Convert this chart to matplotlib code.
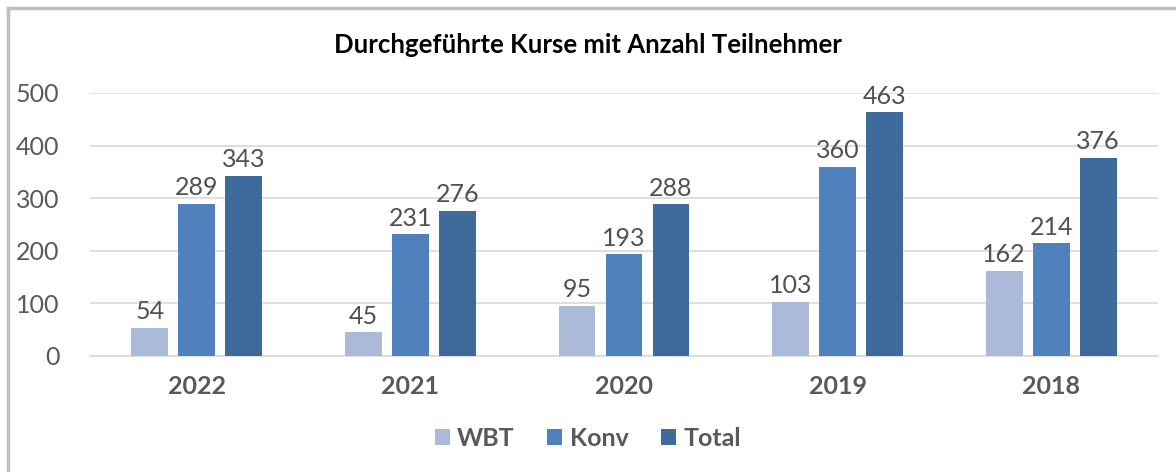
import numpy as np
import matplotlib.pyplot as plt
from matplotlib.lines import Line2D

jahre = ["2022", "2021", "2020", "2019", "2018"]
wbt = [54, 45, 95, 103, 162]
konv = [289, 231, 193, 360, 214]
total = [343, 276, 288, 463, 376]

serien = ["WBT", "Konv", "Total"]
farben = ["#ABBAD8", "#4F81BD", "#3F6A9C"]

plt.rcParams["font.family"] = ["Lato", "DejaVu Sans"]

fig = plt.figure(figsize=(11.76, 4.72), dpi=100)
ax = fig.add_axes([0.0765, 0.2458, 0.9082, 0.5572])

x = np.arange(len(jahre))
breite = 0.173
abstand = 0.22
for i, (werte, farbe, name) in enumerate(zip([wbt, konv, total], farben, serien)):
    pos = x + (i - 1) * abstand
    bars = ax.bar(pos, werte, breite, color=farbe, label=name, zorder=3)
    for b, v in zip(bars, werte):
        ax.text(b.get_x() + b.get_width() / 2, v + 9, str(v), ha="center", va="bottom",
                fontsize=18, color="#505050")

ax.set_xlim(-0.5, len(jahre) - 0.5)
ax.set_ylim(0, 500)
ax.set_yticks([0, 100, 200, 300, 400, 500])
ax.yaxis.grid(True, color="#D9D9D9", linewidth=1.2, zorder=0)
ax.set_xticks(x)
ax.set_xticklabels(jahre, fontsize=18, fontweight="bold", color="#595959")
ax.tick_params(axis="y", labelsize=18, labelcolor="#595959", length=0, pad=22)
ax.tick_params(axis="x", length=0, pad=14)
for s in ["top", "right", "left"]:
    ax.spines[s].set_visible(False)
ax.spines["bottom"].set_color("#D9D9D9")
ax.spines["bottom"].set_linewidth(1.2)

fig.text(0.5, 0.905, "Durchgeführte Kurse mit Anzahl Teilnehmer", ha="center", va="center",
         fontsize=18.5, fontweight="bold", color="black")

leg = fig.legend(loc="center", bbox_to_anchor=(0.5, 0.072), ncol=3, frameon=False,
                 prop={"size": 18, "weight": "bold"}, handlelength=0.6, handleheight=0.6,
                 handletextpad=0.3, columnspacing=1.3)
for t in leg.get_texts():
    t.set_color("#595959")

# Rahmen oben und links
fig.add_artist(Line2D([0.0068, 0.0068], [0, 0.983], transform=fig.transFigure, color="#BFBFBF", linewidth=2.5))
fig.add_artist(Line2D([0.0068, 1.0], [0.983, 0.983], transform=fig.transFigure, color="#BFBFBF", linewidth=2.5))

fig.savefig("out.png", dpi=100)
